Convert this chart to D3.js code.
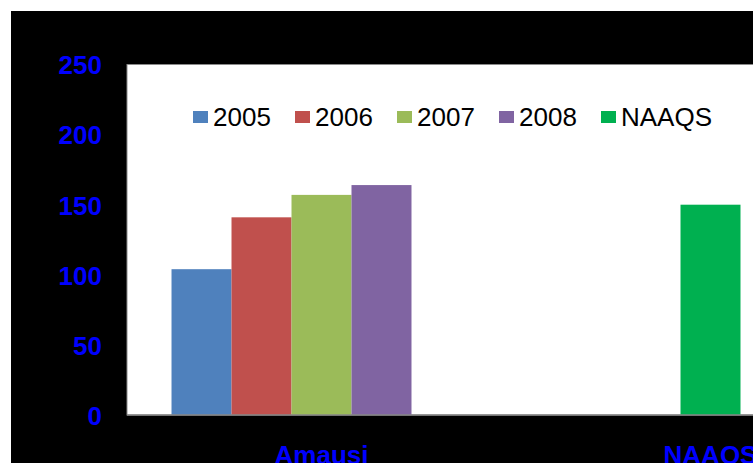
<!DOCTYPE html>
<html>
<head>
<meta charset="utf-8">
<script src="https://cdn.jsdelivr.net/npm/d3@7"></script>
<style>
  html, body { margin: 0; padding: 0; background: #fff; }
  svg { display: block; }
  text { font-family: "Liberation Sans", Arial, sans-serif; }
</style>
</head>
<body>
<svg id="chart" width="753" height="463"></svg>
<script>
// Ambient concentration at Amausi by year, against the NAAQS limit
const categories = ["Amausi", "NAAQS"];
const seriesNames = ["2005", "2006", "2007", "2008", "NAAQS"];
const seriesColors = ["#4F81BD", "#C0504D", "#9BBB59", "#8064A2", "#00B050"];
const amausiValues = [104, 141, 157, 164];
const naaqsLimit = 150;
const yTicks = [0, 50, 100, 150, 200, 250];

const W = 753, H = 463;
const plot = { left: 127, top: 64.5, bottom: 415, right: 905 };

const svg = d3.select("#chart");

// dark chart frame
svg.append("rect").attr("x", 11).attr("y", 11)
  .attr("width", W - 11).attr("height", H - 11).attr("fill", "#000");

// plot area
svg.append("rect")
  .attr("x", plot.left).attr("y", plot.top)
  .attr("width", plot.right - plot.left).attr("height", plot.bottom - plot.top)
  .attr("fill", "#fff").attr("stroke", "#8a8a8a").attr("stroke-width", 1);

const y = d3.scaleLinear().domain([0, 250]).range([plot.bottom, plot.top]);
const x0 = d3.scaleBand().domain(categories).range([plot.left, plot.right]);
const x1 = d3.scaleBand().domain(seriesNames).range([0, x0.bandwidth()]).paddingOuter(0.742);

// Amausi bars, one per year
svg.append("g").selectAll("rect")
  .data(amausiValues)
  .join("rect")
  .attr("x", (d, i) => x0("Amausi") + x1(seriesNames[i]))
  .attr("y", d => y(d))
  .attr("width", x1.bandwidth())
  .attr("height", d => y(0) - y(d))
  .attr("fill", (d, i) => seriesColors[i]);

// NAAQS limit bar, centred in its category
svg.append("rect")
  .attr("x", x0("NAAQS") + x0.bandwidth() / 2 - x1.bandwidth() / 2)
  .attr("y", y(naaqsLimit))
  .attr("width", x1.bandwidth())
  .attr("height", y(0) - y(naaqsLimit))
  .attr("fill", seriesColors[4]);

// baseline
svg.append("line")
  .attr("x1", plot.left).attr("x2", W)
  .attr("y1", y(0)).attr("y2", y(0))
  .attr("stroke", "#868686").attr("stroke-width", 1.5);

// value axis labels
const yAxis = d3.axisLeft(y).tickValues(yTicks).tickSize(0).tickPadding(0);
const gy = svg.append("g").attr("transform", "translate(102,1)").call(yAxis);
gy.select(".domain").remove();
gy.selectAll("text")
  .attr("fill", "#0000FF")
  .attr("font-size", 26)
  .attr("font-weight", "bold")
  .attr("font-family", "'Liberation Sans', Arial, sans-serif");

// category labels
const xAxis = d3.axisBottom(x0).tickSize(0).tickPadding(0);
const gx = svg.append("g").attr("transform", "translate(0,444)").call(xAxis);
gx.select(".domain").remove();
gx.selectAll("text")
  .attr("dy", "0.75em")
  .attr("fill", "#0000FF")
  .attr("font-size", 26)
  .attr("font-weight", "bold")
  .attr("font-family", "'Liberation Sans', Arial, sans-serif");

// legend
const legend = svg.append("g").attr("transform", "translate(193,111)");
const item = legend.selectAll("g")
  .data(seriesNames)
  .join("g")
  .attr("transform", (d, i) => `translate(${i * 102},0)`);
item.append("rect")
  .attr("width", 15).attr("height", 12)
  .attr("fill", (d, i) => seriesColors[i]);
item.append("text")
  .attr("x", 20).attr("y", 15)
  .attr("font-size", 26)
  .attr("fill", "#000")
  .text(d => d);
</script>
</body>
</html>
